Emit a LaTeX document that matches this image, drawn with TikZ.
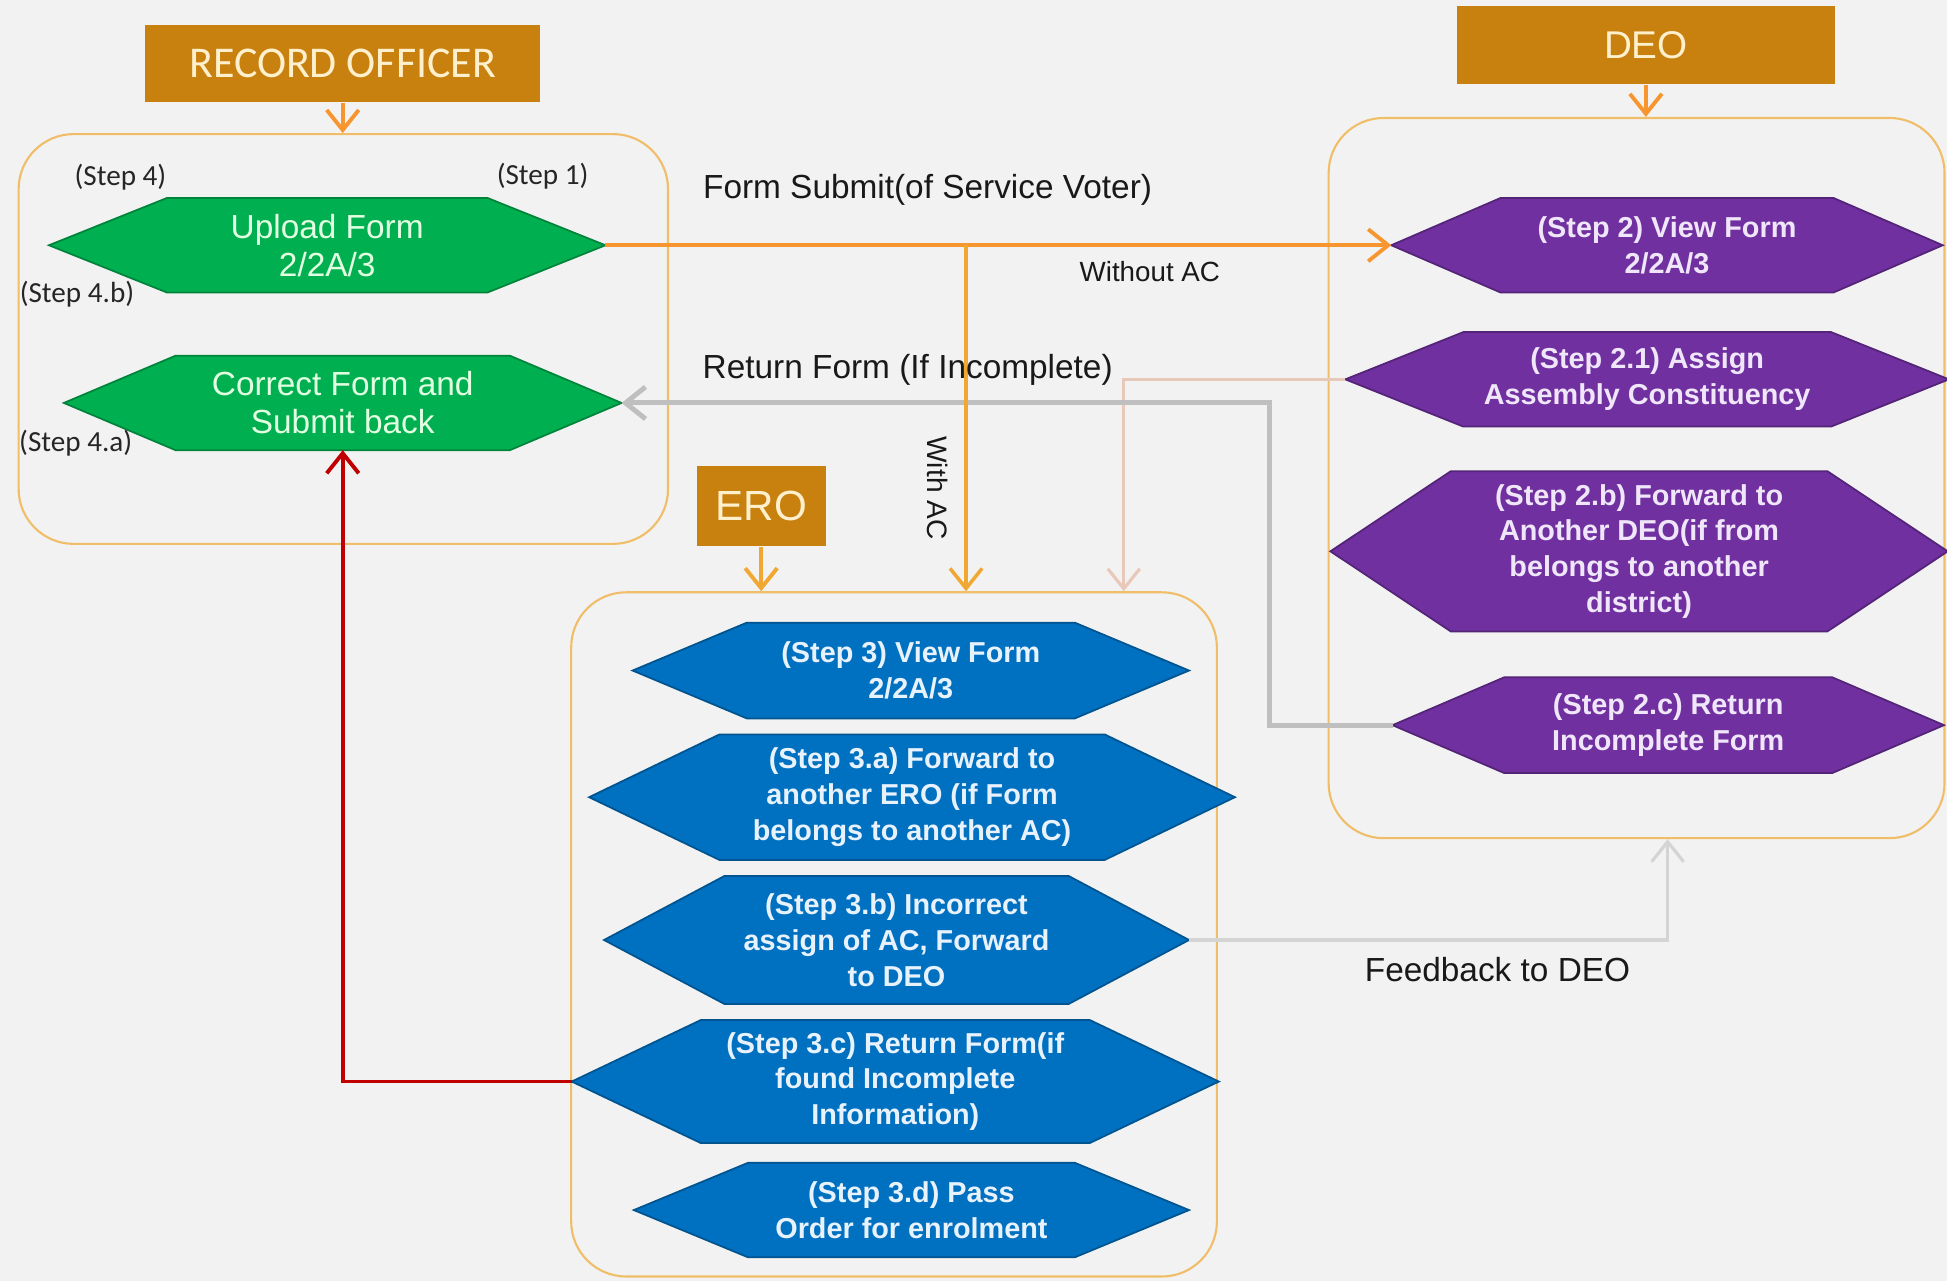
\documentclass[tikz,border=0pt]{standalone}
\usepackage{fontspec}
\setmainfont{Liberation Sans}
\newfontfamily\gillfont{Carlito}
\usetikzlibrary{arrows.meta,backgrounds,calc}

\definecolor{bgcol}{RGB}{242,242,242}
\definecolor{rolecol}{RGB}{200,128,14}
\definecolor{rolefont}{RGB}{255,240,205}
\definecolor{lanecol}{RGB}{240,190,105}
\definecolor{rogreen}{RGB}{0,176,80}
\definecolor{deopurple}{RGB}{112,48,160}
\definecolor{eroblue}{RGB}{0,112,192}
\definecolor{orangeline}{RGB}{247,150,46}
\definecolor{goldline}{RGB}{240,168,50}
\definecolor{peachline}{RGB}{232,200,185}
\definecolor{grayline}{RGB}{191,191,191}
\definecolor{fbline}{RGB}{212,212,212}
\definecolor{redline}{RGB}{192,0,0}

\newcommand{\px}{0.012417cm}

\tikzset{
  rolebox/.style={fill=rolecol, text=rolefont, inner sep=0pt},
  lanebox/.style={draw=lanecol, line width=0.6pt, rounded corners=0.55cm, inner sep=0pt},
  hexbox/.style={inner sep=0pt, align=center},
  hexro/.style={hexbox, text={rgb,255:red,226;green,255;blue,226}, font=\fontsize{9.5}{10.8}\selectfont},
  hexdeo/.style={hexbox, text={rgb,255:red,240;green,230;blue,250}, font=\bfseries\fontsize{8.2}{10.2}\selectfont},
  hexero/.style={hexbox, text={rgb,255:red,232;green,242;blue,252}, font=\bfseries\fontsize{8.2}{10.2}\selectfont},
  steplbl/.style={inner sep=0pt, text=black!85, font=\gillfont\fontsize{8.3}{10}\selectfont},
  linelbl/.style={inner sep=0pt, text=black!90, font=\fontsize{9.5}{11}\selectfont},
  flow/.style={-{Straight Barb[length=2mm,width=3.2mm]}, line width=1.1pt}
}

\begin{document}
\begin{tikzpicture}[x=\px, y=-\px]
%\draw[help lines] (0,0) grid[step=100] (1568,1032);
\useasboundingbox (0,0) rectangle (1568,1032);

% role heads
\node[rolebox, minimum width=318*\px, minimum height=62*\px, font=\gillfont\fontsize{12.5}{14}\selectfont] (rechead) at (276,51) {RECORD OFFICER};
\node[rolebox, minimum width=305*\px, minimum height=63*\px, font=\fontsize{11}{13}\selectfont] (deohead) at (1325.5,36.5) {DEO};
\node[rolebox, minimum width=104*\px, minimum height=65*\px, font=\fontsize{12}{14}\selectfont] (erohead) at (613,407.5) {ERO};

% record officer
\node[hexro, minimum width=447*\px, minimum height=75*\px] (up) at (263.5,197.5) {Upload Form\\2/2A/3};
\node[hexro, minimum width=448*\px, minimum height=75*\px] (cor) at (276,324.5) {Correct Form and\\Submit back};

% deo
\node[hexdeo, minimum width=443*\px, minimum height=75*\px] (v2) at (1342.5,197.5) {(Step 2) View Form\\2/2A/3};
\node[hexdeo, minimum width=485*\px, minimum height=75*\px] (s21) at (1326.5,305.5) {(Step 2.1) Assign\\Assembly Constituency};
\node[hexdeo, minimum width=496*\px, minimum height=128*\px] (s2b) at (1320,444) {(Step 2.b) Forward to\\Another DEO(if from\\belongs to another\\district)};
\node[hexdeo, minimum width=443*\px, minimum height=76*\px] (s2c) at (1343.5,584) {(Step 2.c) Return\\Incomplete Form};

% ero
\node[hexero, minimum width=447*\px, minimum height=76*\px] (s3) at (733.5,540) {(Step 3) View Form\\2/2A/3};
\node[hexero, minimum width=519*\px, minimum height=100*\px] (s3a) at (734.5,642) {(Step 3.a) Forward to\\another ERO (if Form\\belongs to another AC)};
\node[hexero, minimum width=470*\px, minimum height=102*\px] (s3b) at (722,757) {(Step 3.b) Incorrect\\assign of AC, Forward\\to DEO};
\node[hexero, minimum width=520*\px, minimum height=98*\px] (s3c) at (721,871) {(Step 3.c) Return Form(if\\found Incomplete\\Information)};
\node[hexero, minimum width=446*\px, minimum height=75*\px] (s3d) at (734,974.5) {(Step 3.d) Pass\\Order for enrolment};

\begin{scope}[on background layer]
 \fill[bgcol] (0,0) rectangle (1568,1032);
 \node[lanebox, minimum width=523*\px, minimum height=330*\px] (reclane) at (276.5,273) {};
 \node[lanebox, minimum width=496*\px, minimum height=580*\px] (deolane) at (1318,385) {};
 \node[lanebox, minimum width=520*\px, minimum height=551*\px] (erolane) at (720,752.5) {};
 \foreach \n/\t/\c in {up/95/rogreen, cor/90/rogreen, v2/88/deopurple, s21/95/deopurple,
   s2b/97/deopurple, s2c/90/deopurple, s3/92/eroblue, s3a/105/eroblue, s3b/97/eroblue,
   s3c/104/eroblue, s3d/92/eroblue}
  \filldraw[fill=\c, draw=\c!75!black, line width=0.5pt]
   (\n.west) -- ($(\n.north west)+(\t,0)$) -- ($(\n.north east)-(\t,0)$) -- (\n.east)
   -- ($(\n.south east)-(\t,0)$) -- ($(\n.south west)+(\t,0)$) -- cycle;
\end{scope}

% step labels
\node[steplbl] (lbl4) at (97,143) {(Step 4)};
\node[steplbl] (lbl1) at (437,142) {(Step 1)};
\node[steplbl] (lbl4b) at (62,237) {(Step 4.b)};
\node[steplbl] (lbl4a) at (61,357) {(Step 4.a)};

% heads to lanes
\draw[flow, orangeline] (rechead) -- (rechead |- reclane.north);
\draw[flow, orangeline] (deohead) -- (deohead |- deolane.north);
\draw[flow, goldline] (erohead) -- (erohead |- erolane.north);

% connectors
\coordinate (split) at (778,197.5);
\coordinate (peach) at (905,305.5);
\coordinate (retturn) at (1022,584);
\coordinate (fbk) at (1343,757);

\draw[flow, peachline, line width=0.9pt] (s21.west) -- (peach) -- (peach |- erolane.north);
\draw[flow, grayline, line width=1.4pt] (s2c.west) -- (retturn) |- (cor.east);
\draw[flow, orangeline] (up.east) -- (v2.west);
\draw[flow, goldline, line width=1pt] (split) -- (split |- erolane.north);
\draw[flow, fbline, line width=0.9pt] (s3b.east) -- (fbk) -- (fbk |- deolane.south);
\draw[flow, redline] (s3c.west) -| (cor.south);

% connector labels
\node[linelbl] (lblsubmit) at (747,153) {Form Submit(of Service Voter)};
\node[linelbl, font=\fontsize{7.9}{9}\selectfont] (lblwithout) at (926,219) {Without AC};
\node[linelbl, font=\fontsize{8}{9}\selectfont, rotate=-90] (lblwith) at (755,393) {With AC};
\node[linelbl] (lblreturn) at (731,298) {Return Form (If Incomplete)};
\node[linelbl] (lblfeed) at (1206,781) {Feedback to DEO};

\end{tikzpicture}
\end{document}
